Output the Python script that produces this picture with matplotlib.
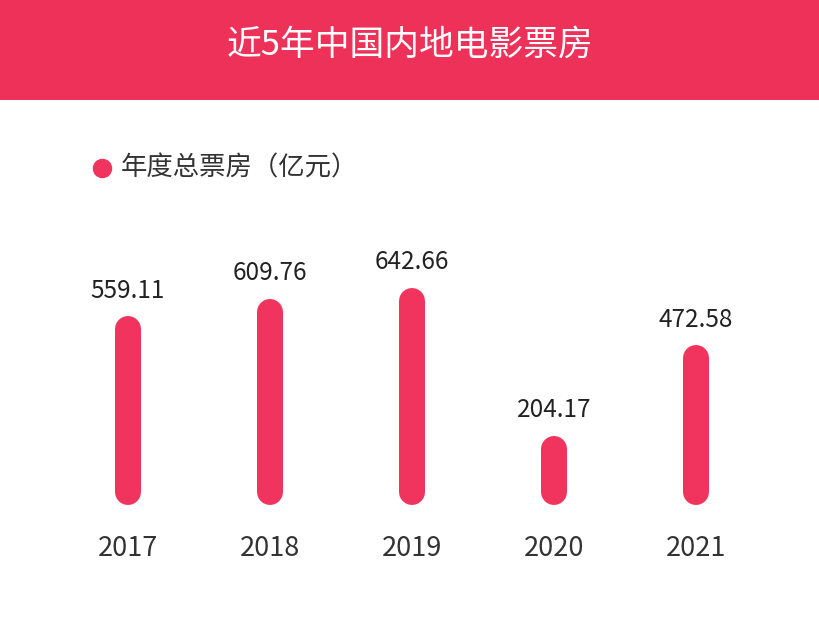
import matplotlib
matplotlib.use('Agg')
import matplotlib.pyplot as plt
from matplotlib.patches import Rectangle
from matplotlib.lines import Line2D

plt.rcParams['font.family'] = ['Noto Sans CJK SC', 'DejaVu Sans']

years = ['2017', '2018', '2019', '2020', '2021']
box_office = [559.11, 609.76, 642.66, 204.17, 472.58]

RED = '#EE3159'
BAR = '#F0345D'

fig = plt.figure(figsize=(8.2, 6.25), dpi=100)
fig.patch.set_facecolor('white')

# header band
fig.patches.append(Rectangle((0, 1 - 100 / 625), 1, 100 / 625, transform=fig.transFigure,
                             facecolor=RED, edgecolor='none', zorder=0))
fig.text(0.5, 1 - 45 / 625, '近5年中国内地电影票房', color='white', fontsize=25,
         ha='center', va='center', fontweight='medium')

# legend
fig.lines.append(Line2D([102 / 820], [1 - 168 / 625], marker='o', markersize=13,
                        color=BAR, transform=fig.transFigure))
fig.text(121 / 820, 1 - 168 / 625, '年度总票房（亿元）', color='#333333', fontsize=19,
         ha='left', va='center')

# bars
px_per_unit = 0.338
ax_h = 275
ax = fig.add_axes([57 / 820, (625 - 505) / 625, 710 / 820, ax_h / 625])
ax.set_xlim(-0.5, 4.5)
ax.set_ylim(0, ax_h / px_per_unit)
ax.axis('off')

bar_px = 26
r = (bar_px / 2) / px_per_unit
for i, v in enumerate(box_office):
    ax.plot([i, i], [r, v - r], color=BAR, lw=bar_px * 0.72, solid_capstyle='round')
    ax.annotate(f'{v:.2f}', (i, v), xytext=(0, 9), textcoords='offset points',
                ha='center', va='bottom', fontsize=17.5, color='#222222',
                fontweight='light', annotation_clip=False)
    ax.annotate(years[i], (i, 0), xytext=(0, -31), textcoords='offset points',
                ha='center', va='center', fontsize=19.5, color='#333333',
                annotation_clip=False)

fig.savefig('out.png', dpi=100)
